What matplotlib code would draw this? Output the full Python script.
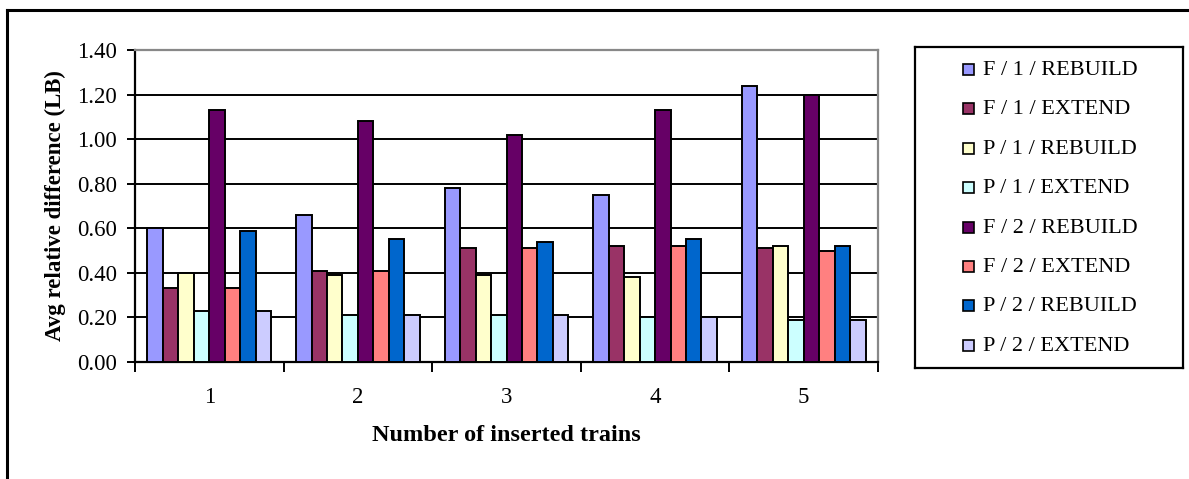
import numpy as np
import matplotlib
matplotlib.use("Agg")
import matplotlib.pyplot as plt
from matplotlib.lines import Line2D
from matplotlib.patches import Rectangle

plt.rcParams['font.family'] = ['Liberation Serif', 'DejaVu Serif']

# number of inserted trains
categories = ['1', '2', '3', '4', '5']

series_names = ['F / 1 / REBUILD', 'F / 1 / EXTEND', 'P / 1 / REBUILD', 'P / 1 / EXTEND',
                'F / 2 / REBUILD', 'F / 2 / EXTEND', 'P / 2 / REBUILD', 'P / 2 / EXTEND']

f1_rebuild = [0.60, 0.66, 0.78, 0.75, 1.24]
f1_extend = [0.33, 0.41, 0.51, 0.52, 0.51]
p1_rebuild = [0.40, 0.39, 0.39, 0.38, 0.52]
p1_extend = [0.23, 0.21, 0.21, 0.20, 0.19]
f2_rebuild = [1.13, 1.08, 1.02, 1.13, 1.20]
f2_extend = [0.33, 0.41, 0.51, 0.52, 0.50]
p2_rebuild = [0.59, 0.55, 0.54, 0.55, 0.52]
p2_extend = [0.23, 0.21, 0.21, 0.20, 0.19]

series = [f1_rebuild, f1_extend, p1_rebuild, p1_extend,
          f2_rebuild, f2_extend, p2_rebuild, p2_extend]

colors = ['#9999FF', '#993366', '#FFFFCC', '#CCFFFF',
          '#660066', '#FF8080', '#0066CC', '#CCCCFF']

W, H = 1189, 479
fig = plt.figure(figsize=(W / 100, H / 100), dpi=100)

ax = fig.add_axes([135 / W, 1 - 362 / H, 743 / W, 312 / H])

x = np.arange(len(categories))
bw = 0.104
for j in range(len(series)):
    ax.bar(x + (j - 3.5) * bw, series[j], width=bw, color=colors[j],
           edgecolor='black', linewidth=1.4, zorder=3)

ax.set_xlim(-0.5, len(categories) - 0.5)
ax.set_ylim(0, 1.4)
ax.set_yticks(np.arange(0, 1.41, 0.2))
ax.set_yticklabels(['%.2f' % v for v in np.arange(0, 1.41, 0.2)])
ax.yaxis.grid(True, color='black', linewidth=1.4, zorder=0)

# ticks between groups, labels in the middle of each group
ax.set_xticks(np.arange(-0.5, len(categories), 1.0))
ax.set_xticklabels([])
ax.set_xticks(x, minor=True)
ax.set_xticklabels(categories, minor=True)
ax.tick_params(axis='x', which='major', length=7, width=1.4, direction='out')
ax.tick_params(axis='x', which='minor', length=0, pad=18, labelsize=16.5)
ax.tick_params(axis='y', length=6, width=1.4, direction='out', pad=7, labelsize=16.5)

for s in ['left', 'bottom']:
    ax.spines[s].set_color('black')
    ax.spines[s].set_linewidth(1.6)
for s in ['top', 'right']:
    ax.spines[s].set_color('#888888')
    ax.spines[s].set_linewidth(1.6)

ax.set_xlabel('Number of inserted trains', fontsize=17.5, fontweight='bold', labelpad=12)
ax.set_ylabel('Avg relative difference (LB)', fontsize=16.5, fontweight='bold', labelpad=8)

# legend box on the right
lax = fig.add_axes([915 / W, 1 - 368 / H, 268 / W, 321 / H])
lax.set_xlim(0, 268)
lax.set_ylim(321, 0)
lax.set_xticks([])
lax.set_yticks([])
for s in lax.spines.values():
    s.set_linewidth(1.6)
    s.set_color('black')
for j, name in enumerate(series_names):
    yc = 22 + j * 39.4
    lax.add_patch(Rectangle((48, yc - 5), 11, 11, facecolor=colors[j],
                            edgecolor='black', linewidth=1.2))
    lax.text(68, yc + 1.5, name, fontsize=16, va='center', ha='left')

# outer frame
fig.add_artist(Line2D([7 / W, 7 / W], [0, 1 - 10 / H], color='black', linewidth=2.2))
fig.add_artist(Line2D([7 / W, 1], [1 - 10 / H, 1 - 10 / H], color='black', linewidth=2.2))

fig.savefig('out.png', dpi=100)
